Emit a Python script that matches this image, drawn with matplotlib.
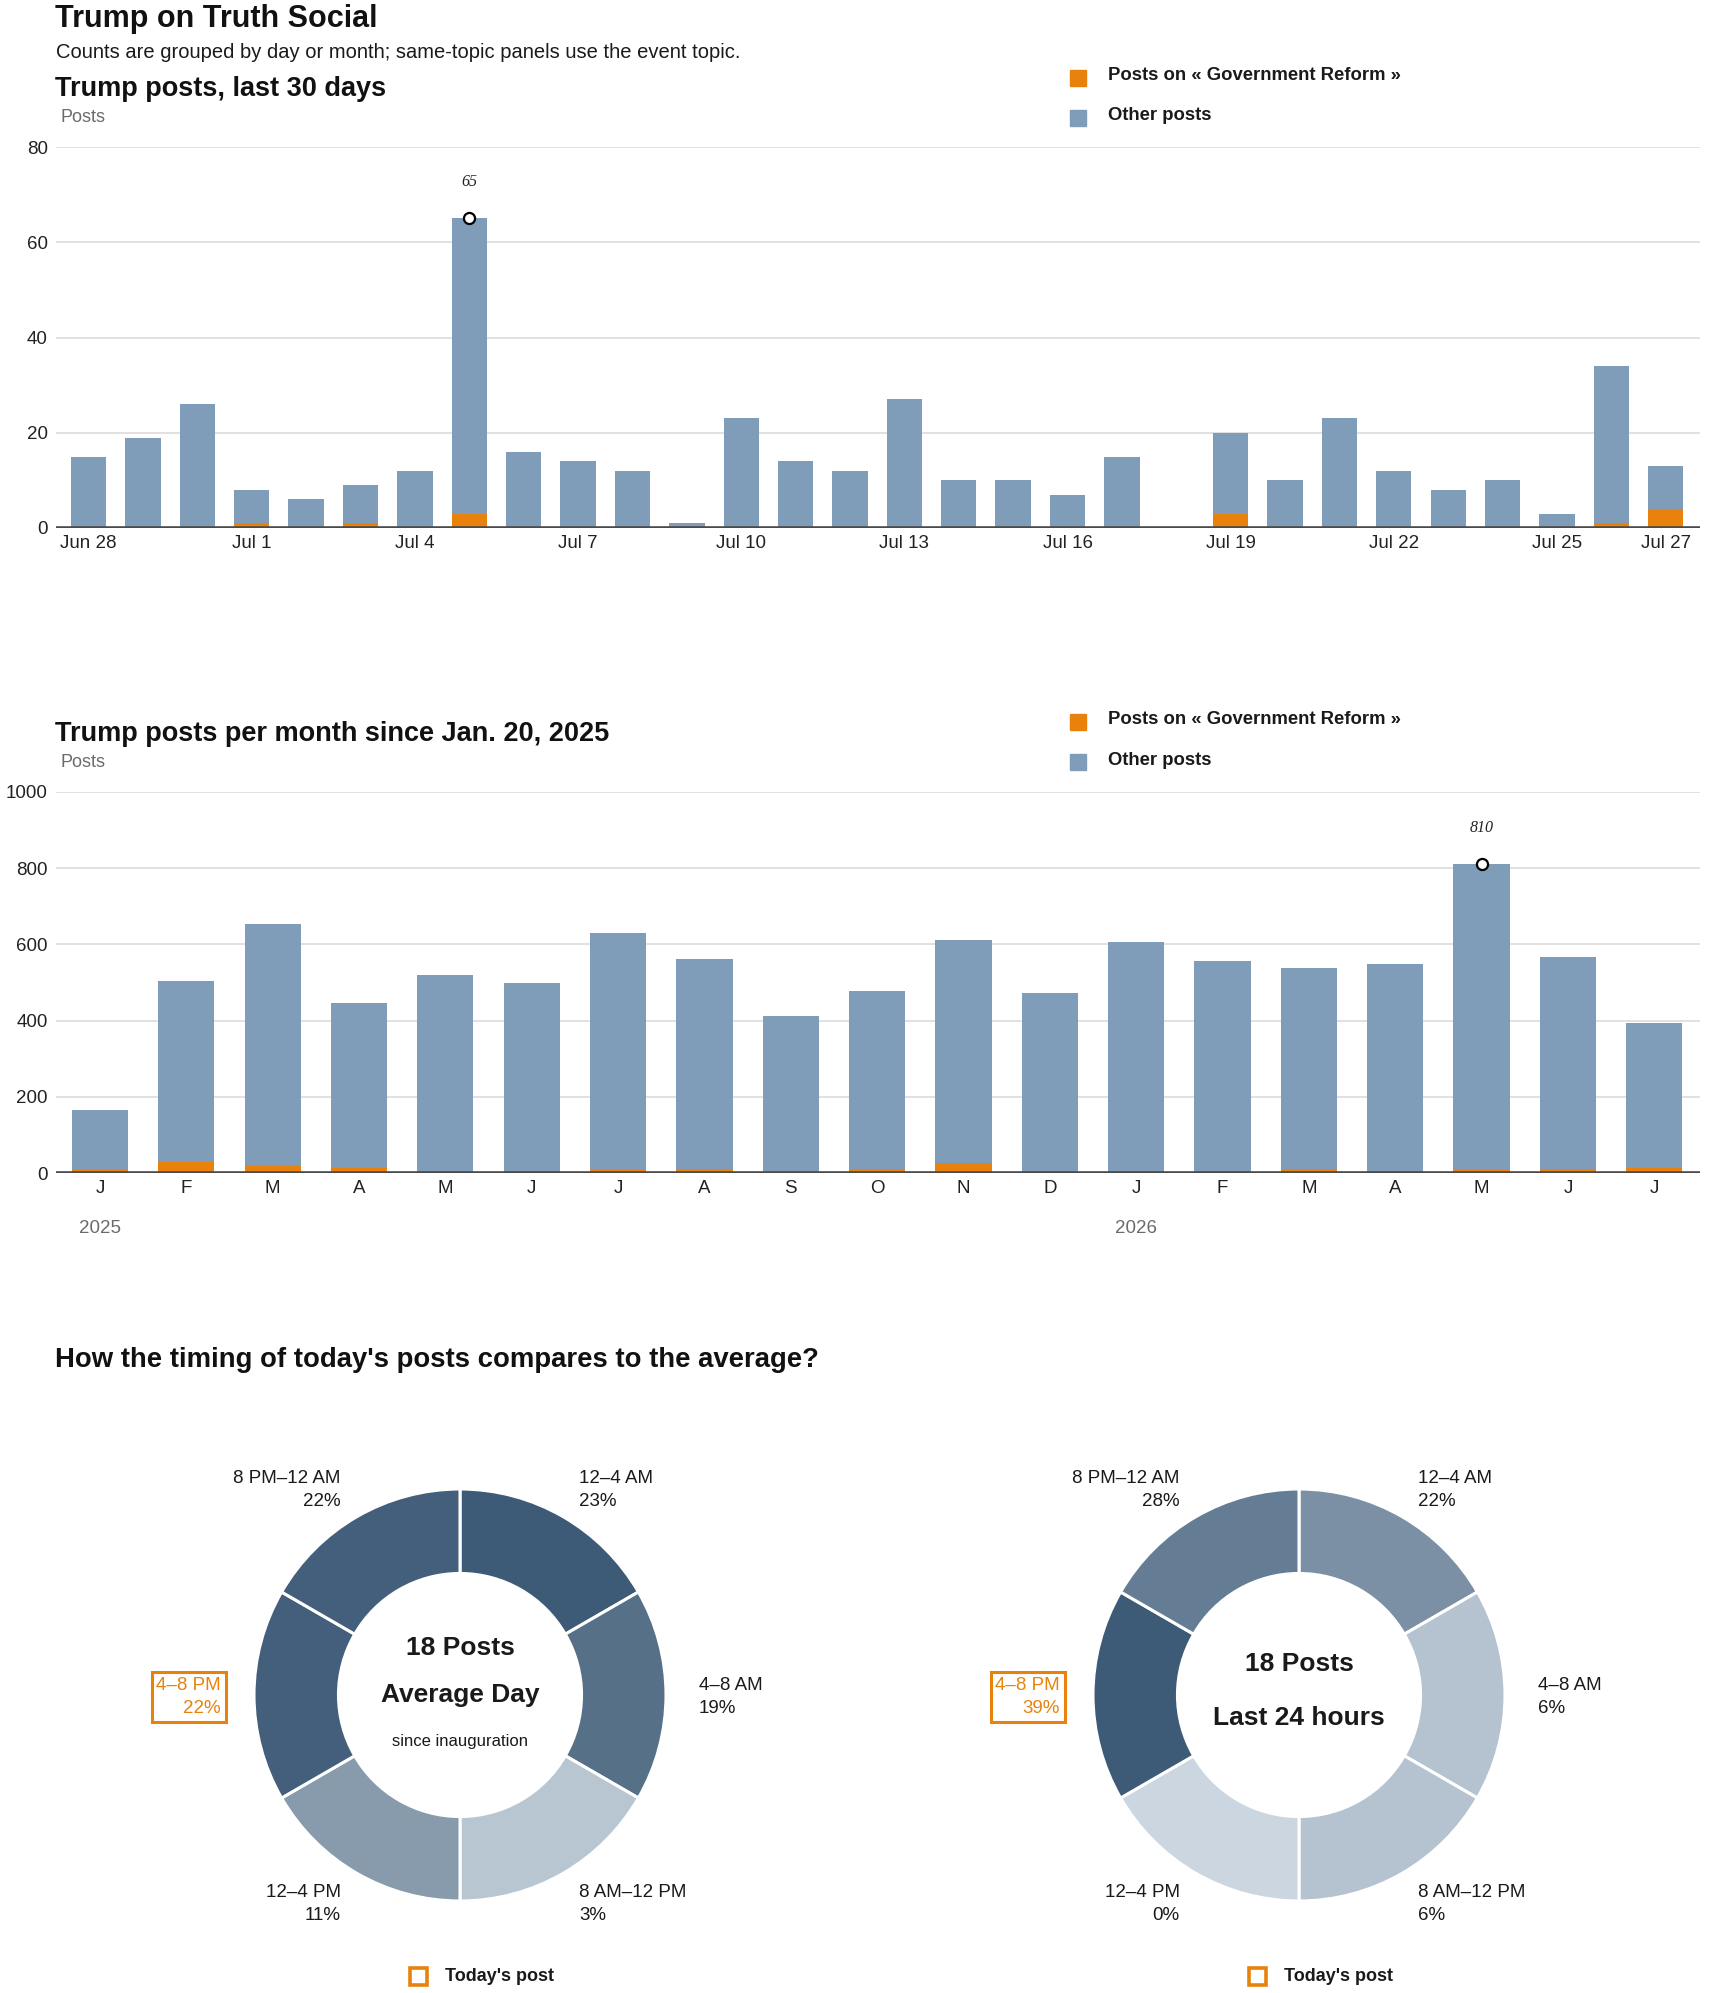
import numpy as np
import matplotlib
matplotlib.use("Agg")
import matplotlib.pyplot as plt
from matplotlib.patches import Rectangle

plt.rcParams['font.family'] = ['Liberation Sans', 'DejaVu Sans']

# ---- data ----
days = ["Jun 28", "Jun 29", "Jun 30", "Jul 1", "Jul 2", "Jul 3", "Jul 4", "Jul 5",
        "Jul 6", "Jul 7", "Jul 8", "Jul 9", "Jul 10", "Jul 11", "Jul 12", "Jul 13",
        "Jul 14", "Jul 15", "Jul 16", "Jul 17", "Jul 18", "Jul 19", "Jul 20", "Jul 21",
        "Jul 22", "Jul 23", "Jul 24", "Jul 25", "Jul 26", "Jul 27"]
daily_total = [15, 19, 26, 8, 6, 9, 12, 65, 16, 14, 12, 1, 23, 14, 12, 27,
               10, 10, 7, 15, 0, 20, 10, 23, 12, 8, 10, 3, 34, 13]
daily_topic = [0, 0, 0, 1, 0, 1, 0, 3, 0, 0, 0, 0, 0, 0, 0, 0,
               0, 0, 0, 0, 0, 3, 0, 0, 0, 0, 0, 0, 1, 4]
day_ticks = ["Jun 28", "Jul 1", "Jul 4", "Jul 7", "Jul 10", "Jul 13", "Jul 16",
             "Jul 19", "Jul 22", "Jul 25", "Jul 27"]

months = ["J", "F", "M", "A", "M", "J", "J", "A", "S", "O", "N", "D",
          "J", "F", "M", "A", "M", "J", "J"]
monthly_total = [165, 504, 654, 447, 520, 499, 630, 562, 412, 477, 612, 473,
                 607, 556, 538, 549, 810, 568, 394]
monthly_topic = [8, 29, 18, 13, 6, 6, 8, 11, 0, 11, 25, 6, 6, 6, 11, 6, 8, 11, 13]
years = {"2025": 0, "2026": 12}

slots = ["12–4 AM", "4–8 AM", "8 AM–12 PM", "12–4 PM", "4–8 PM", "8 PM–12 AM"]
avg_pct = [23, 19, 3, 11, 22, 22]
today_pct = [22, 6, 6, 0, 39, 28]
today_slot = "4–8 PM"
n_posts = 18

topic = "Government Reform"

ORANGE = "#e8820c"
BLUE = "#7f9db9"
GRID = "#dcdcdc"
DARK = "#1a1a1a"
GRAY = "#6b6b6b"

W, H = 1710, 1993
fig = plt.figure(figsize=(W / 100, H / 100), dpi=100)


def fx(px):
    return px / W


def fy(py):
    return 1 - py / H


def bar_panel(rect, labels, total, part, yticks, tick_labels, tick_pos, pad_l, pad_r):
    ax = fig.add_axes(rect)
    x = np.arange(len(labels))
    other = np.array(total) - np.array(part)
    ax.bar(x, part, width=0.65, color=ORANGE, zorder=2)
    ax.bar(x, other, bottom=part, width=0.65, color=BLUE, zorder=2)
    ax.set_ylim(0, yticks[-1])
    ax.set_xlim(-pad_l, len(labels) - 1 + pad_r)
    ax.set_yticks(yticks)
    ax.yaxis.grid(True, color=GRID, lw=1.2, zorder=0)
    ax.set_axisbelow(True)
    for s in ax.spines.values():
        s.set_visible(False)
    ax.axhline(0, color="#4a4a4a", lw=2.6, zorder=3)
    ax.tick_params(axis="both", length=0, labelsize=13.5, colors="#222222")
    ax.tick_params(axis="y", pad=6)
    ax.tick_params(axis="x", pad=5)
    ax.set_xticks(tick_pos)
    ax.set_xticklabels(tick_labels)
    imax = int(np.argmax(total))
    ax.plot(imax, total[imax], "o", ms=8, mfc="white", mec="black", mew=1.6, zorder=4)
    ax.annotate(str(total[imax]), (imax, total[imax]), xytext=(0, 26),
                textcoords="offset points", ha="center", va="center",
                fontsize=11.5, style="italic", family="Liberation Serif", color="#222222")
    return ax


def legend(y1, y2):
    for yy, col, txt in [(y1, ORANGE, "Posts on « %s »" % topic), (y2, BLUE, "Other posts")]:
        fig.add_artist(Rectangle((fx(1070), fy(yy + 8)), 16 / W, 16 / H,
                                 transform=fig.transFigure, color=col))
        fig.text(fx(1108), fy(yy - 2), txt, fontsize=13.3, fontweight="bold",
                 color=DARK, va="center", ha="left")


# ---- header ----
fig.text(fx(55), fy(27), "Trump on Truth Social", fontsize=22, fontweight="bold",
         color="#111111", va="baseline")
fig.text(fx(56), fy(58), "Counts are grouped by day or month; same-topic panels use the event topic.",
         fontsize=14.5, color=DARK, va="baseline")

# ---- panel 1: last 30 days ----
fig.text(fx(55), fy(96), "Trump posts, last 30 days", fontsize=19.5, fontweight="bold",
         color="#111111", va="baseline")
fig.text(fx(60), fy(122), "Posts", fontsize=13, color=GRAY, va="baseline")
legend(78, 118)
bar_panel([fx(56), fy(528), fx(1700) - fx(56), (528 - 147) / H], days, daily_total,
          daily_topic, [0, 20, 40, 60, 80], day_ticks, [days.index(d) for d in day_ticks],
          0.6, 0.63)

# ---- panel 2: per month ----
fig.text(fx(55), fy(741), "Trump posts per month since Jan. 20, 2025", fontsize=19.5,
         fontweight="bold", color="#111111", va="baseline")
fig.text(fx(60), fy(767), "Posts", fontsize=13, color=GRAY, va="baseline")
legend(722, 762)
ax2 = bar_panel([fx(56), fy(1173), fx(1700) - fx(56), (1173 - 792) / H], months,
                monthly_total, monthly_topic, [0, 200, 400, 600, 800, 1000], months,
                list(range(len(months))), 0.51, 0.53)
for yr, i in years.items():
    ax2.annotate(yr, (i, 0), xytext=(0, -40), textcoords="offset points",
                 xycoords=("data", "axes fraction"), ha="center", va="center",
                 fontsize=13.5, color=GRAY)

# ---- panel 3: donuts ----
fig.text(fx(55), fy(1367), "How the timing of today's posts compares to the average?",
         fontsize=19.8, fontweight="bold", color="#111111", va="baseline")

LIGHT = np.array([203, 214, 224]) / 255
DEEP = np.array([61, 90, 118]) / 255
R_PX = 206
L = 1.44


def donut(cx, cy, pct, center_lines):
    half = L * R_PX
    ax = fig.add_axes([fx(cx - half), fy(cy + half), 2 * half / W, 2 * half / H])
    m = max(pct)
    cols = [tuple(LIGHT + (DEEP - LIGHT) * (v / m)) for v in pct]
    ax.pie([1] * len(slots), colors=cols, startangle=90, counterclock=False, radius=1,
           wedgeprops=dict(width=0.41, edgecolor="white", linewidth=2.2))
    ax.set_xlim(-L, L)
    ax.set_ylim(-L, L)
    ax.set_aspect("equal")
    ax.axis("off")
    rl = 1.16
    for k, (name, v) in enumerate(zip(slots, pct)):
        th = np.deg2rad(30 + 60 * k)
        x, y = rl * np.sin(th), rl * np.cos(th)
        ha = "left" if x > 0 else "right"
        kw = dict(ha=ha, va="center", multialignment=ha, fontsize=13.5, linespacing=1.45,
                  color=DARK)
        if name == today_slot:
            kw["color"] = ORANGE
            kw["bbox"] = dict(boxstyle="square,pad=0.25", fc="white", ec=ORANGE, lw=2.2)
        ax.text(x, y - 0.01, "%s\n%d%%" % (name, v), **kw)
    for txt, yy, fs, fw in center_lines:
        ax.text(0, yy, txt, ha="center", va="center", fontsize=fs, fontweight=fw, color=DARK)
    ax.add_patch(Rectangle((-0.243, -1.41), 0.084, 0.084, fill=False, ec=ORANGE, lw=2.6,
                           clip_on=False))
    ax.text(-0.074, -1.368, "Today's post", ha="left", va="center", fontsize=13,
            fontweight="bold", color=DARK)
    return ax


donut(460, 1695, avg_pct,
      [("%d Posts" % n_posts, 0.23, 19, "bold"), ("Average Day", 0.0, 19, "bold"),
       ("since inauguration", -0.225, 12, "normal")])
donut(1299, 1695, today_pct,
      [("%d Posts" % n_posts, 0.15, 19, "bold"), ("Last 24 hours", -0.11, 19, "bold")])

fig.savefig("out.png", dpi=100, facecolor="white")
